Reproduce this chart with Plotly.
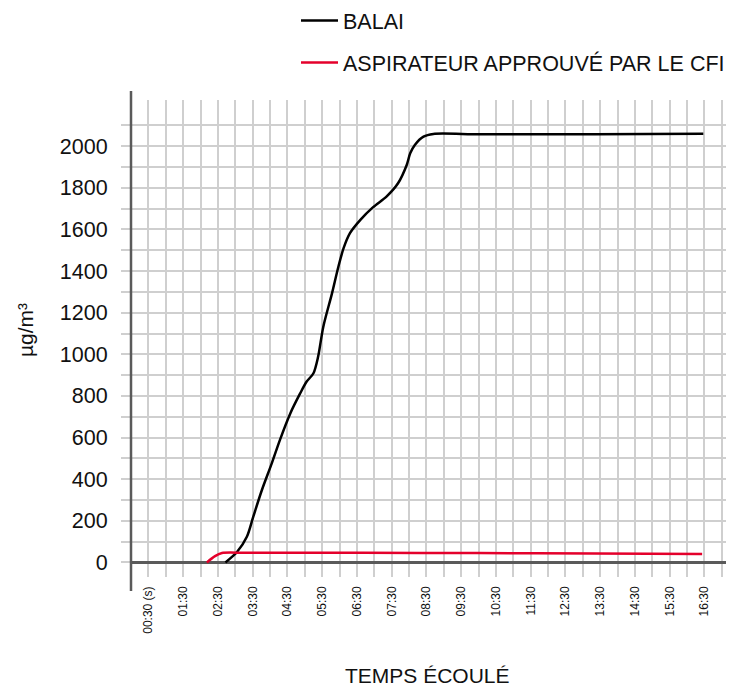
import plotly.graph_objects as go

# ---- data ----
balai_t = [163, 183, 200, 211, 226, 243, 257, 275, 292, 303, 315, 323, 332, 347, 358,
           367, 378, 396, 418, 441, 461, 476, 482, 490, 505, 522, 603, 800, 988]
balai_v = [0, 50, 123, 219, 348, 476, 588, 716, 812, 868, 909, 988, 1133, 1293, 1421,
           1510, 1582, 1646, 1707, 1758, 1822, 1910, 1966, 2006, 2046, 2059, 2057, 2058, 2060]

aspi_t = [131, 145, 157, 200, 400, 600, 800, 986]
aspi_v = [0, 30, 45, 46, 46, 45, 43, 41]

x_tickvals = [30 + 60 * i for i in range(17)]
x_ticktext = ["00:30 (s)", "01:30", "02:30", "03:30", "04:30", "05:30", "06:30", "07:30",
              "08:30", "09:30", "10:30", "11:30", "12:30", "13:30", "14:30", "15:30", "16:30"]
x_minorvals = [60 + 60 * i for i in range(17)]

y_tickvals = [0, 200, 400, 600, 800, 1000, 1200, 1400, 1600, 1800, 2000]
y_minorvals = [100 + 200 * i for i in range(11)]

FONT = "Liberation Sans, Arial, sans-serif"
GRID = "#cfcfcf"
AXIS = "#5a5a5a"
TXT = "#111111"

# page body has an 8px margin: figure is laid out in page coords minus 8
OFF = 8
PL, PR, PT, PB = 131 - OFF, 734 - OFF, 100 - OFF, 577 - OFF
PW, PH = PR - PL, PB - PT


def px(xp):
    return (xp - OFF - PL) / PW


def py(yp):
    return (PB - (yp - OFF)) / PH


fig = go.Figure()
fig.add_trace(go.Scatter(x=balai_t, y=balai_v, mode="lines", name="BALAI",
                         legendgroup="a",
                         line=dict(color="#000000", width=2.5, shape="spline", smoothing=0.8)))
fig.add_trace(go.Scatter(x=aspi_t, y=aspi_v, mode="lines", name="ASPIRATEUR APPROUVÉ PAR LE CFI",
                         legendgroup="b",
                         line=dict(color="#e4002b", width=2.5, shape="spline", smoothing=0.8)))

fig.update_layout(
    width=734 - OFF, height=686 - OFF,
    margin=dict(l=PL, r=0, t=PT, b=686 - OFF - PB, autoexpand=False),
    paper_bgcolor="white", plot_bgcolor="white",
    font=dict(family=FONT, color=TXT, size=21),
    showlegend=True,
    legend=dict(x=px(296), xanchor="left", y=py(0), yanchor="top",
                font=dict(size=21.5, color=TXT), tracegroupgap=11,
                bgcolor="rgba(0,0,0,0)", itemwidth=37),
    xaxis=dict(range=[0, 1041], tickmode="array", tickvals=x_tickvals, ticktext=x_ticktext,
               tickangle=-90, tickfont=dict(size=12, color=TXT),
               showgrid=True, gridcolor=GRID, gridwidth=1.5,
               ticks="", ticklabelstandoff=6, zeroline=False, showline=False,
               minor=dict(tickmode="array", tickvals=x_minorvals, showgrid=True,
                          gridcolor=GRID, gridwidth=1.5, ticks="")),
    yaxis=dict(range=[-70, 2222], tickmode="array", tickvals=y_tickvals,
               tickfont=dict(size=21.5, color=TXT),
               showgrid=True, gridcolor=GRID, gridwidth=1.5,
               ticks="outside", ticklen=9, tickcolor=GRID, tickwidth=1.5,
               ticklabelstandoff=9,
               zeroline=True, zerolinecolor=AXIS, zerolinewidth=2.5,
               showline=False,
               minor=dict(tickmode="array", tickvals=y_minorvals, showgrid=True,
                          gridcolor=GRID, gridwidth=1.5, ticks="outside", ticklen=9,
                          tickcolor=GRID, tickwidth=1.5)),
    shapes=[dict(type="line", xref="paper", yref="paper", x0=0, x1=0,
                 y0=py(591), y1=py(91), line=dict(color=AXIS, width=2.5), layer="above")],
    annotations=[
        dict(text="TEMPS ÉCOULÉ", xref="paper", yref="paper", x=px(427.5),
             y=py(675), xanchor="center", yanchor="middle", showarrow=False,
             font=dict(size=21, color=TXT)),
        dict(text="µg/m³", xref="paper", yref="paper", x=px(25),
             y=py(330), xanchor="center", yanchor="middle", showarrow=False,
             textangle=-90, font=dict(size=21, color=TXT)),
    ],
)

fig.write_html("out.html")
